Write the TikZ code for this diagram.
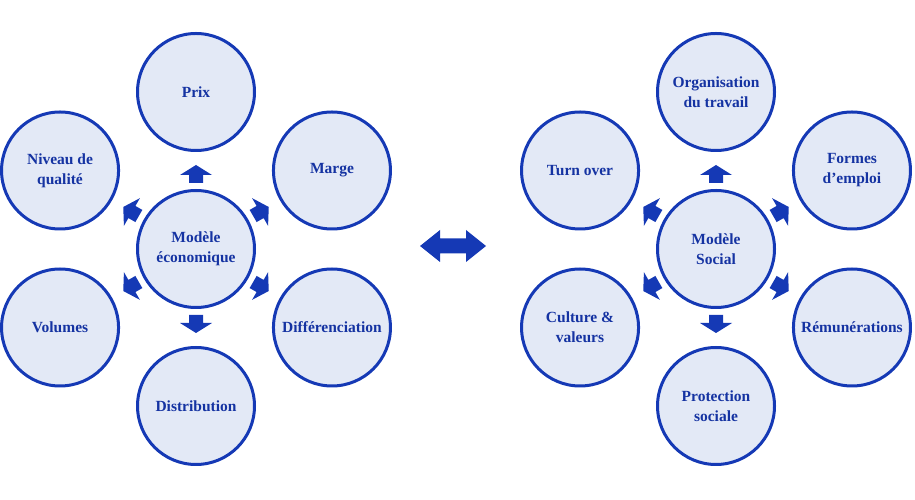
\documentclass[tikz,border=0pt]{standalone}
\usepackage{fontspec}
\setmainfont{Liberation Serif}
\definecolor{cblue}{HTML}{1539B5}
\definecolor{cfill}{HTML}{E3E9F6}
\definecolor{ctext}{HTML}{1533A2}
\tikzset{
  bubble/.style={circle, draw=cblue, fill=cfill, line width=3pt, inner sep=0pt,
    minimum size=117pt, align=center, text=ctext,
    font=\bfseries\fontsize{15.5}{20}\selectfont},
  blockarrow/.pic={\fill[cblue] (-7,0) -- (-7,8) -- (-16,8) -- (0,18) -- (16,8) -- (7,8) -- (7,0) -- cycle;}
}
\begin{document}
\begin{tikzpicture}[x=1pt,y=1pt]
\useasboundingbox (0,0) rectangle (915,500);
% left group
\node[bubble] (eco) at (196,251) {Modèle\\économique};
\node[bubble] (prix) at ([shift={(90:157)}]eco.center) {Prix};
\node[bubble] (marge) at ([shift={(30:157)}]eco.center) {Marge};
\node[bubble] (diff) at ([shift={(-30:157)}]eco.center) {Différenciation};
\node[bubble] (distr) at ([shift={(-90:157)}]eco.center) {Distribution};
\node[bubble] (vol) at ([shift={(-150:157)}]eco.center) {Volumes};
\node[bubble] (qual) at ([shift={(150:157)}]eco.center) {Niveau de\\qualité};
\foreach \a in {90,30,-30,-90,-150,150}{
  \pic[rotate=\a-90] at ([shift={(\a:66)}]eco.center) {blockarrow};
}
% right group
\node[bubble] (soc) at (716,251) {Modèle\\Social};
\node[bubble] (orga) at ([shift={(90:157)}]soc.center) {Organisation\\du travail};
\node[bubble] (formes) at ([shift={(30:157)}]soc.center) {Formes\\d’emploi};
\node[bubble] (remu) at ([shift={(-30:157)}]soc.center) {Rémunérations};
\node[bubble] (prot) at ([shift={(-90:157)}]soc.center) {Protection\\sociale};
\node[bubble] (cult) at ([shift={(-150:157)}]soc.center) {Culture \&\\valeurs};
\node[bubble] (turn) at ([shift={(150:157)}]soc.center) {Turn over};
\foreach \a in {90,30,-30,-90,-150,150}{
  \pic[rotate=\a-90] at ([shift={(\a:66)}]soc.center) {blockarrow};
}
% middle double arrow
\fill[cblue] (420,254) -- (440,270) -- (440,261.5) -- (466,261.5) -- (466,270) -- (486,254)
  -- (466,238) -- (466,246.5) -- (440,246.5) -- (440,238) -- cycle;
\end{tikzpicture}
\end{document}
